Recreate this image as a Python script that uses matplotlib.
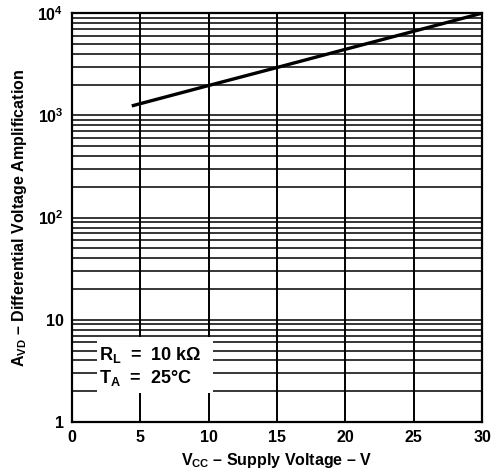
import matplotlib.pyplot as plt
import matplotlib.patches as patches

plt.rcParams['font.family'] = ['Liberation Sans', 'DejaVu Sans']
plt.rcParams['font.weight'] = 'bold'
plt.rcParams['mathtext.fontset'] = 'custom'
plt.rcParams['mathtext.rm'] = 'Liberation Sans:bold'
plt.rcParams['mathtext.it'] = 'Liberation Sans:bold'
plt.rcParams['mathtext.bf'] = 'Liberation Sans:bold'
plt.rcParams['mathtext.default'] = 'rm'

# data
vcc = [4.5, 10, 15, 20, 25, 30]
avd = [1250, 1960, 2940, 4430, 6650, 10000]

x_ticks = [0, 5, 10, 15, 20, 25, 30]
y_ticks = [1, 10, 100, 1000, 10000]
y_labels = ['1', '10', r'$10^{\mathregular{2}}$', r'$10^{\mathregular{3}}$', r'$10^{\mathregular{4}}$']

fig = plt.figure(figsize=(4.99, 4.71), dpi=100)
ax = fig.add_axes([0.144, 0.104, 0.822, 0.868])

ax.set_yscale('log')
ax.set_xlim(0, 30)
ax.set_ylim(1, 10000)

# grid lines
for d in [1, 10, 100, 1000]:
    for m in range(1, 10):
        ax.axhline(d * m, color='black', linewidth=1.1, zorder=1)
for x in x_ticks[1:-1]:
    ax.axvline(x, color='black', linewidth=1.4, zorder=1)

# white box for the conditions
box = patches.Rectangle((1.85, 1.92), 8.45, 6.8 - 1.92, facecolor='white',
                        edgecolor='none', zorder=2)
ax.add_patch(box)
ax.text(2.0, 4.5, r'R$_\mathregular{L}$  =  10 k$\Omega$', fontsize=13,
        fontweight='bold', va='center', zorder=3)
ax.text(2.0, 2.7, r'T$_\mathregular{A}$  =  25°C', fontsize=13,
        fontweight='bold', va='center', zorder=3)

ax.plot(vcc, avd, color='black', linewidth=2.4, zorder=4)

ax.set_xticks(x_ticks)
ax.set_yticks(y_ticks)
ax.set_yticklabels(y_labels)
ax.minorticks_off()
ax.tick_params(length=0, labelsize=11.5, pad=6)
for lab in ax.get_xticklabels() + ax.get_yticklabels():
    lab.set_fontweight('bold')
for s in ax.spines.values():
    s.set_linewidth(1.6)

ax.set_xlabel(r'V$_\mathregular{CC}$ – Supply Voltage – V', fontsize=11.5,
              fontweight='bold', labelpad=4)
ax.set_ylabel(r'A$_\mathregular{VD}$ – Differential Voltage Amplification',
              fontsize=11.5, fontweight='bold', labelpad=6)

plt.savefig('out.png', dpi=100)
